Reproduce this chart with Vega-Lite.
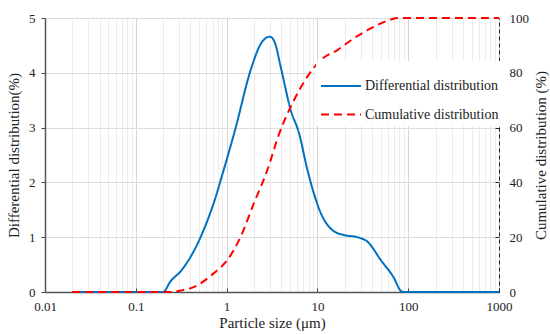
{
  "$schema": "https://vega.github.io/schema/vega-lite/v6.json",
  "width": 454,
  "height": 274,
  "autosize": {"type": "none"},
  "padding": {"left": 45, "top": 18, "right": 51, "bottom": 42},
  "background": "white",
  "config": {
    "font": "Liberation Serif",
    "view": {"stroke": null},
    "axis": {"labelFont": "Liberation Serif", "titleFont": "Liberation Serif", "labelFontSize": 13, "titleFontSize": 15, "titleFontWeight": "normal", "labelColor": "#222", "titleColor": "#222"},
    "legend": {"labelFont": "Liberation Serif", "labelFontSize": 14, "labelColor": "#222"}
  },
  "data": {"values": [
    {"size": 0.02, "value": 0, "series": "Differential distribution"},
    {"size": 0.2, "value": 0, "series": "Differential distribution"},
    {"size": 0.24, "value": 0.19, "series": "Differential distribution"},
    {"size": 0.32, "value": 0.4, "series": "Differential distribution"},
    {"size": 0.52, "value": 1.01, "series": "Differential distribution"},
    {"size": 0.72, "value": 1.62, "series": "Differential distribution"},
    {"size": 0.93, "value": 2.23, "series": "Differential distribution"},
    {"size": 1.26, "value": 3.0, "series": "Differential distribution"},
    {"size": 1.84, "value": 4.05, "series": "Differential distribution"},
    {"size": 2.47, "value": 4.57, "series": "Differential distribution"},
    {"size": 3.0, "value": 4.66, "series": "Differential distribution"},
    {"size": 3.4, "value": 4.55, "series": "Differential distribution"},
    {"size": 3.94, "value": 4.11, "series": "Differential distribution"},
    {"size": 5.08, "value": 3.32, "series": "Differential distribution"},
    {"size": 6.27, "value": 2.9, "series": "Differential distribution"},
    {"size": 7.76, "value": 2.23, "series": "Differential distribution"},
    {"size": 10.9, "value": 1.44, "series": "Differential distribution"},
    {"size": 14.6, "value": 1.13, "series": "Differential distribution"},
    {"size": 19.5, "value": 1.04, "series": "Differential distribution"},
    {"size": 27.5, "value": 1.0, "series": "Differential distribution"},
    {"size": 35.5, "value": 0.92, "series": "Differential distribution"},
    {"size": 50, "value": 0.58, "series": "Differential distribution"},
    {"size": 70, "value": 0.25, "series": "Differential distribution"},
    {"size": 83, "value": 0.02, "series": "Differential distribution"},
    {"size": 90, "value": 0, "series": "Differential distribution"},
    {"size": 1000, "value": 0, "series": "Differential distribution"},
    {"size": 0.02, "value": 0, "series": "Cumulative distribution"},
    {"size": 0.24, "value": 0, "series": "Cumulative distribution"},
    {"size": 0.32, "value": 0.6, "series": "Cumulative distribution"},
    {"size": 0.44, "value": 1.9, "series": "Cumulative distribution"},
    {"size": 0.72, "value": 6.8, "series": "Cumulative distribution"},
    {"size": 1.02, "value": 11.7, "series": "Cumulative distribution"},
    {"size": 1.43, "value": 20.2, "series": "Cumulative distribution"},
    {"size": 2.0, "value": 32.4, "series": "Cumulative distribution"},
    {"size": 2.81, "value": 44.5, "series": "Cumulative distribution"},
    {"size": 3.77, "value": 57.5, "series": "Cumulative distribution"},
    {"size": 5.52, "value": 70, "series": "Cumulative distribution"},
    {"size": 7.76, "value": 78.6, "series": "Cumulative distribution"},
    {"size": 10.9, "value": 84.7, "series": "Cumulative distribution"},
    {"size": 16.6, "value": 88.3, "series": "Cumulative distribution"},
    {"size": 25.2, "value": 92.6, "series": "Cumulative distribution"},
    {"size": 38.7, "value": 96.2, "series": "Cumulative distribution"},
    {"size": 59, "value": 99, "series": "Cumulative distribution"},
    {"size": 76, "value": 100, "series": "Cumulative distribution"},
    {"size": 1000, "value": 100, "series": "Cumulative distribution"}
  ]},
  "encoding": {
    "x": {
      "field": "size", "type": "quantitative",
      "scale": {"type": "log", "domain": [0.01, 1000], "nice": false},
      "axis": {
        "title": "Particle size (μm)",
        "values": [0.01,0.02,0.03,0.04,0.05,0.06,0.07,0.08,0.09,0.1,0.2,0.3,0.4,0.5,0.6,0.7,0.8,0.9,1,2,3,4,5,6,7,8,9,10,20,30,40,50,60,70,80,90,100,200,300,400,500,600,700,800,900,1000],
        "labelExpr": "abs(log(datum.value)/LN10 - round(log(datum.value)/LN10)) < 0.000001 ? format(datum.value, '~g') : ''",
        "grid": true,
        "gridColor": {"condition": {"test": "abs(log(datum.value)/LN10 - round(log(datum.value)/LN10)) < 0.000001", "value": "#d4d4d4"}, "value": "#ececec"},
        "tickOpacity": {"condition": {"test": "abs(log(datum.value)/LN10 - round(log(datum.value)/LN10)) < 0.000001", "value": 1}, "value": 0},
        "tickSize": -4,
        "tickColor": "#444",
        "domainColor": "#555",
        "domainWidth": 1.5,
        "labelPadding": 12,
        "labelFlush": false,
        "titlePadding": 2
      }
    }
  },
  "layer": [
    {
      "transform": [{"filter": "datum.series === 'Differential distribution'"}],
      "mark": {"type": "line", "strokeWidth": 2, "interpolate": "monotone"},
      "encoding": {
        "y": {
          "field": "value", "type": "quantitative",
          "scale": {"domain": [0, 5], "nice": false},
          "axis": {"title": "Differential distribution(%)", "values": [0,1,2,3,4,5], "grid": true, "gridColor": "#dcdcdc", "tickSize": 4, "tickColor": "#444", "domainColor": "#555", "domainWidth": 1.5, "labelPadding": 6, "titlePadding": 7}
        },
        "color": {"field": "series", "type": "nominal", "scale": {"domain": ["Differential distribution", "Cumulative distribution"], "range": ["#0070C0", "#FF0000"]}, "legend": {"title": null, "orient": "none", "legendX": 271, "legendY": 43, "symbolType": "stroke", "symbolSize": 1600, "symbolStrokeWidth": 2, "rowPadding": 0.5, "labelOffset": 3, "fillColor": "white", "padding": 4}},
        "strokeDash": {"field": "series", "type": "nominal", "scale": {"domain": ["Differential distribution", "Cumulative distribution"], "range": [[1,0],[8,5]]}, "legend": {"title": null, "orient": "none", "legendX": 271, "legendY": 43, "symbolType": "stroke", "symbolSize": 1600, "symbolStrokeWidth": 2, "rowPadding": 0.5, "labelOffset": 3, "fillColor": "white", "padding": 4}}
      }
    },
    {
      "transform": [{"filter": "datum.series === 'Cumulative distribution'"}],
      "mark": {"type": "line", "strokeWidth": 2, "interpolate": "monotone"},
      "encoding": {
        "y": {
          "field": "value", "type": "quantitative",
          "scale": {"domain": [0, 100], "nice": false},
          "axis": {"orient": "right", "title": "Cumulative distribution (%)", "titleAngle": 270, "titleBaseline": "top", "values": [0,20,40,60,80,100], "grid": false, "tickSize": -4, "tickColor": "#222", "domainColor": "#222", "domainDash": [4,3], "domainWidth": 1, "labelPadding": 14, "titlePadding": 5}
        },
        "color": {"field": "series", "type": "nominal"},
        "strokeDash": {"field": "series", "type": "nominal"}
      }
    }
  ],
  "resolve": {"scale": {"y": "independent"}, "axis": {"y": "independent"}}
}
